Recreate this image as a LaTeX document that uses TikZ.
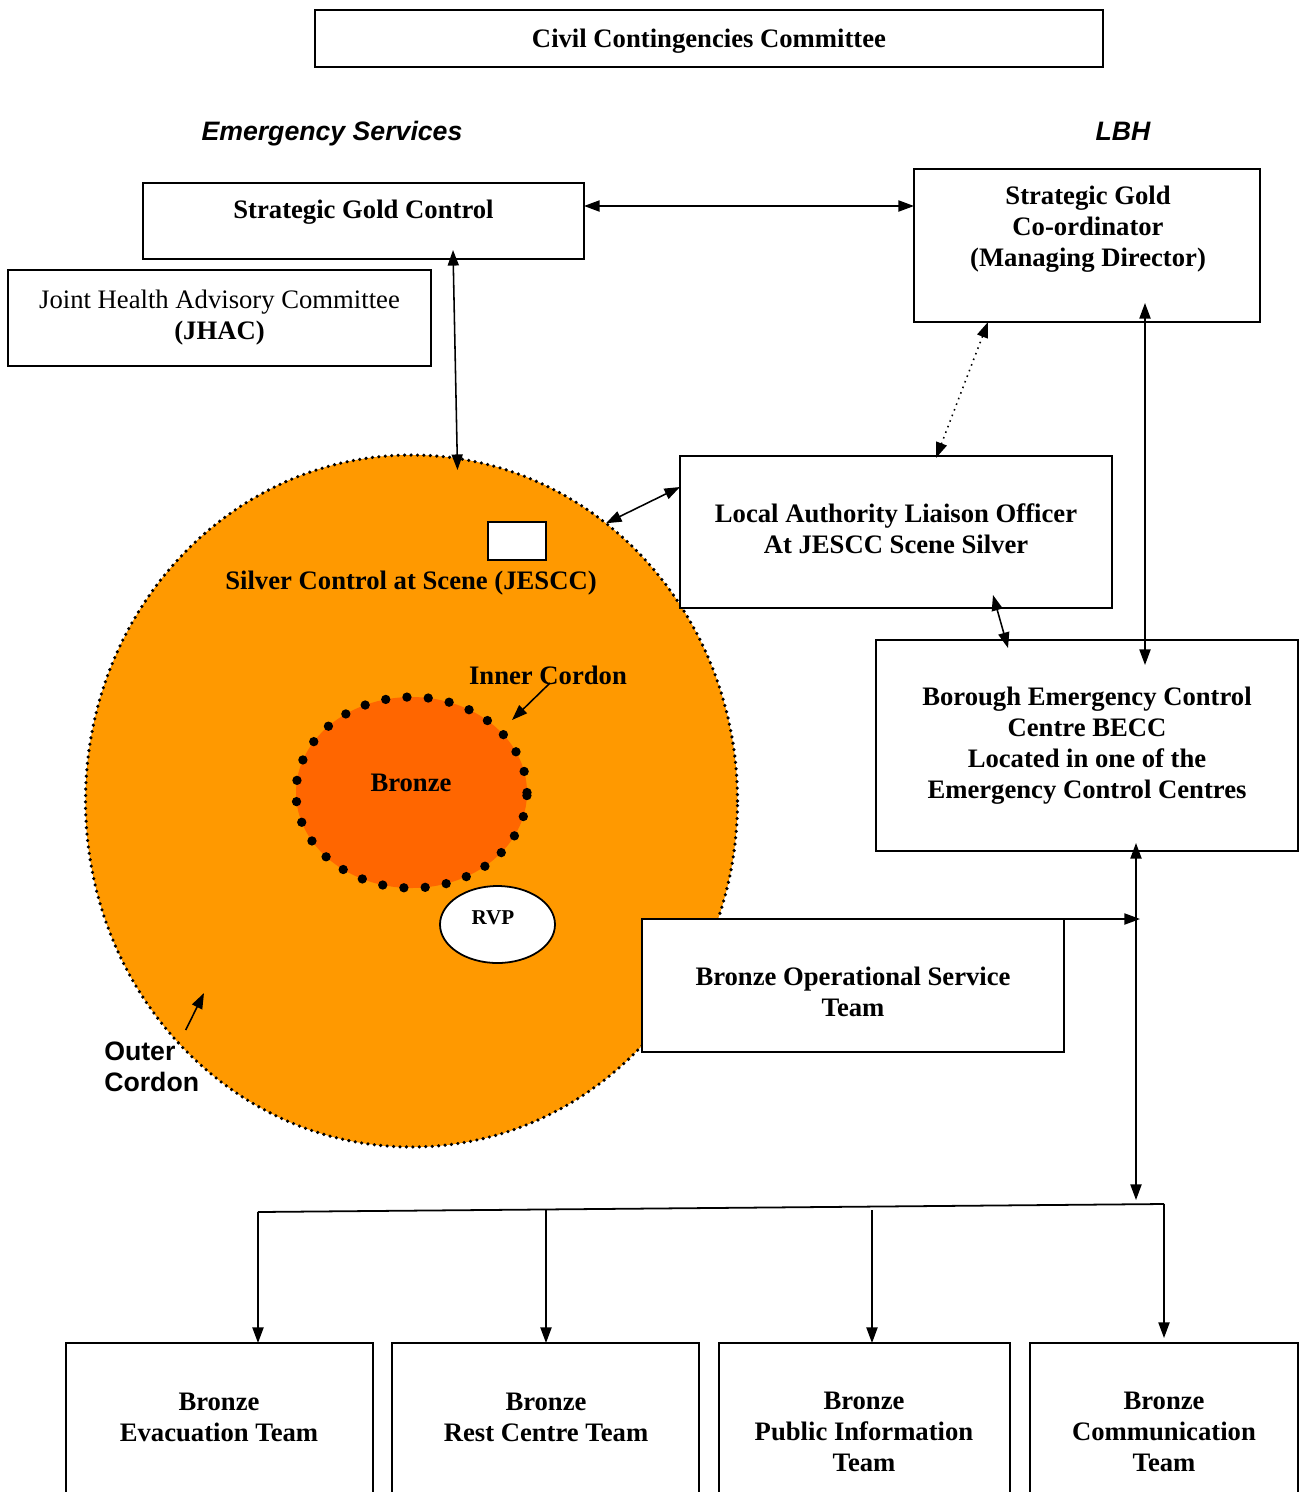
\documentclass[tikz,border=0pt]{standalone}
\usepackage{fontspec}
\setmainfont{Liberation Serif}
\setsansfont{Liberation Sans}
\usetikzlibrary{arrows.meta,shapes.geometric,calc}
\definecolor{CordonOrange}{HTML}{FF9900}
\definecolor{BronzeRed}{HTML}{FF6600}

\begin{document}
\begin{tikzpicture}[x=0.45pt,y=-0.45pt,line width=0.8pt,
    >={Triangle[length=7pt,width=5pt]},
    every node/.style={font=\fontsize{12}{14}\selectfont\bfseries},
    box/.style={draw,fill=white,rectangle,inner sep=0pt,outer sep=0pt,align=center},
    sidehead/.style={font=\fontsize{12}{14}\selectfont\sffamily\bfseries\itshape},
    cordon/.style={ellipse,draw,inner sep=0pt,outer sep=0pt,line cap=round},
    link/.style={line width=0.7pt,<->},
    feed/.style={line width=0.7pt,->}]
  \useasboundingbox (0,0) rectangle (1301,1492);
  \clip (0,0) rectangle (1301,1492);

  % committee and headings
  \node[box,minimum width=354.6pt,minimum height=25.65pt,text depth=0pt] (ccc) at (709,38.5) {Civil Contingencies Committee};
  \node[sidehead] (es) at (332,134) {Emergency Services};
  \node[sidehead] (lbh) at (1123,131) {LBH};

  % gold level
  \node[box,minimum width=198.45pt,minimum height=34.2pt] (sgc) at (363.5,221) {};
  \node (sgctext) at (363.5,212) {Strategic Gold Control};
  \node[box,minimum width=190.35pt,minimum height=43.2pt,font=\fontsize{12}{14}\selectfont] (jhac) at (219.5,318)
    {Joint Health Advisory Committee\\\textbf{(JHAC)}};
  \node[box,minimum width=155.7pt,minimum height=68.85pt] (sgco) at (1087,245.5) {};
  \node[align=center] (sgcotext) at (1088,229) {Strategic Gold\\Co-ordinator\\(Managing Director)};

  % the scene
  \node[cordon,fill=CordonOrange,minimum width=293.4pt,minimum height=311.4pt,
    line width=1.6pt,dash pattern=on 0pt off 2.9pt] (outer) at (411.5,801) {};
  \node[box,minimum width=26.1pt,minimum height=17.1pt] (jescc) at (517,541) {};
  \node (silver) at (411,583) {Silver Control at Scene (JESCC)};
  \node[cordon,fill=BronzeRed,minimum width=103.95pt,minimum height=85.95pt,
    line width=4.2pt,dash pattern=on 0pt off 9.6pt] (inner) at (411.5,792.5) {};
  \node (bronzetext) at (411,783) {Bronze};
  \node[ellipse,draw,fill=white,inner sep=0pt,minimum width=51.75pt,minimum height=34.65pt] (rvp) at (497.5,924.5) {};
  \node[font=\fontsize{9.5}{11}\selectfont\bfseries] (rvptext) at (493,918) {RVP};
  \node (innerlbl) at (548,675) {Inner Cordon};
  \draw[feed] ($(innerlbl.center)+(2,8)$) -- ($(inner.center)+(100.5,-72.5)$);
  \node[anchor=west,align=left,font=\fontsize{12}{14}\selectfont\sffamily\bfseries] (outerlbl) at (96,1067) {Outer\\Cordon};
  \draw[feed] ($(outerlbl.center)+(34,-37)$) -- ($(outer.center)+(-207.5,192)$);

  % LBH side
  \node[box,minimum width=194.4pt,minimum height=68.4pt] (lalo) at (896,532) {};
  \node[align=center] (lalotext) at (896,529) {Local Authority Liaison Officer\\At JESCC Scene Silver};
  \node[box,minimum width=189.9pt,minimum height=94.95pt] (becc) at (1087,745.5)
    {Borough Emergency Control\\Centre BECC\\Located in one of the\\Emergency Control Centres};
  \node[box,minimum width=189.9pt,minimum height=59.85pt] (bost) at (853,985.5) {};
  \node[align=center] (bosttext) at (853,992) {Bronze Operational Service\\Team};

  % bronze teams
  \node[box,minimum width=138.15pt,minimum height=135pt] (evac) at (219.5,1493) {};
  \node[align=center] (evactext) at (219,1417) {Bronze\\Evacuation Team};
  \node[box,minimum width=138.15pt,minimum height=135pt] (rest) at (545.5,1493) {};
  \node[align=center] (resttext) at (546,1417) {Bronze\\Rest Centre Team};
  \node[box,minimum width=130.95pt,minimum height=135pt] (pinf) at (864.5,1493) {};
  \node[align=center] (pinftext) at (864,1432) {Bronze\\Public Information\\Team};
  \node[box,minimum width=120.6pt,minimum height=135pt] (comm) at (1164,1493) {};
  \node[align=center] (commtext) at (1164,1432) {Bronze\\Communication\\Team};

  % connectors
  \coordinate (goldline) at (0,206);
  \coordinate (spine) at (1136,1200);
  \coordinate (busL) at (258,1212);
  \coordinate (busR) at (1164,1204);
  \draw[link] (sgc.east |- goldline) -- (sgco.west |- goldline);
  \draw[link] ($(sgc.south)+(89.5,-9)$) -- ($(outer.north)+(46,15)$);
  \draw[link] (outer.55.3) -- ($(lalo.north west)+(0,31)$);
  \draw[link,dotted] ($(sgco.south west)+(74,0)$) -- ($(lalo.north west)+(256,2)$);
  \draw[link] ($(lalo.south west)+(313,-13)$) -- ($(becc.north west)+(132,8)$);
  \draw[link] ($(sgco.south)+(58,-19)$) -- ($(becc.north)+(58,25)$);
  \draw[feed] (bost.north east) -- ++(76,0);
  \draw[link] ($(becc.south)+(49,-8)$) -- (spine);
  \draw (busL) -- (busR);
  \draw[feed] (busL) -- (busL |- evac.north);
  \draw[feed] ($(rest.north)+(0.5,-133)$) -- ($(rest.north)+(0.5,0)$);
  \draw[feed] ($(pinf.north)+(7.5,-133)$) -- ($(pinf.north)+(7.5,0)$);
  \draw[feed] (busR) -- ($(comm.north)+(0,-5)$);
\end{tikzpicture}
\end{document}
